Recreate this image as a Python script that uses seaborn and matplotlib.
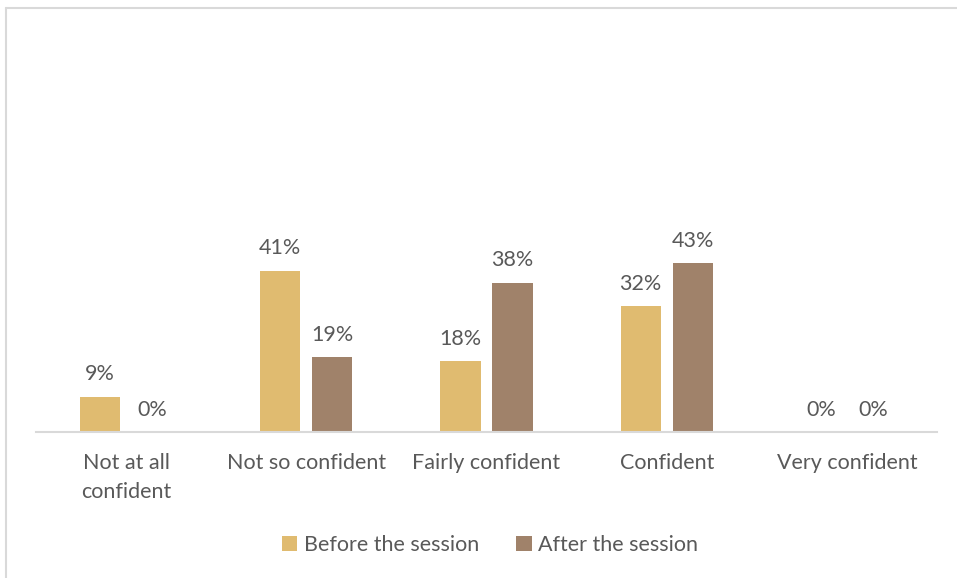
import matplotlib
matplotlib.use("Agg")
import matplotlib.pyplot as plt
from matplotlib.lines import Line2D
from matplotlib.patches import Patch
import seaborn as sns
import pandas as pd

categories = ["Not at all\nconfident", "Not so confident", "Fairly confident",
              "Confident", "Very confident"]
before = [9, 41, 18, 32, 0]
after = [0, 19, 38, 43, 0]
series_names = ["Before the session", "After the session"]
colors = ["#E0BB70", "#A0826A"]

df = pd.DataFrame({
    "category": categories * 2,
    "value": before + after,
    "series": [series_names[0]] * len(categories) + [series_names[1]] * len(categories),
})

sns.set_theme(style="white")
plt.rcParams["font.family"] = ["Lato", "DejaVu Sans"]
text_color = "#595959"
fs = 15.5

W, H = 957, 578
fig = plt.figure(figsize=(W / 100, H / 100), dpi=100)
ax = fig.add_axes([36 / W, 1 - 432 / H, (937 - 36) / W, (432 - 30) / H])

sns.barplot(data=df, x="category", y="value", hue="series",
            palette=colors, width=0.577, gap=0.23, ax=ax, legend=False,
            saturation=1, edgecolor="none")

ax.set_xlim(-0.5, 4.5)
ax.set_ylim(0, (432 - 30) / 3.93)

for container in ax.containers:
    ax.bar_label(container, labels=[f"{v:.0f}%" for v in container.datavalues],
                 padding=9, fontsize=fs, color=text_color)

ax.set_xlabel("")
ax.set_ylabel("")
ax.set_yticks([])
ax.tick_params(axis="x", length=0, pad=15, labelsize=fs, labelcolor=text_color)
for lbl in ax.get_xticklabels():
    lbl.set_linespacing(1.55)
for s in ["top", "right", "left"]:
    ax.spines[s].set_visible(False)
ax.spines["bottom"].set_color("#D9D9D9")
ax.spines["bottom"].set_linewidth(1.5)

handles = [Patch(facecolor=c, edgecolor="none") for c in colors]
fig.legend(handles, series_names, loc="center", bbox_to_anchor=(490 / W, 1 - 545 / H),
           ncol=2, frameon=False, fontsize=fs, labelcolor=text_color,
           handlelength=0.7, handleheight=0.7, handletextpad=0.3, columnspacing=1.75)

# outer chart frame (top and left edges)
fig.add_artist(Line2D([6 / W, 6 / W], [0, 1 - 8 / H], transform=fig.transFigure,
                      color="#D9D9D9", linewidth=1.5))
fig.add_artist(Line2D([6 / W, 1], [1 - 8 / H, 1 - 8 / H], transform=fig.transFigure,
                      color="#D9D9D9", linewidth=1.5))

fig.savefig("out.png", dpi=100, facecolor="white")
